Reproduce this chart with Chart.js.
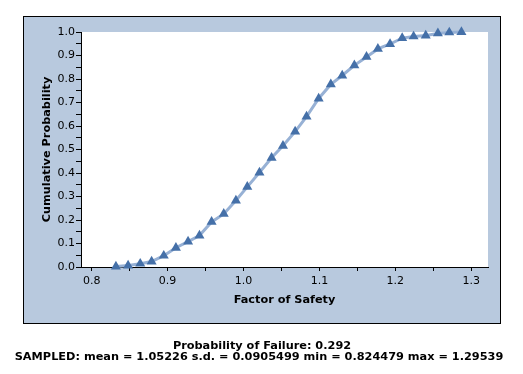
<!DOCTYPE html>
<html>
<head>
<meta charset="utf-8">
<script src="https://cdn.jsdelivr.net/npm/chart.js@4.4.1/dist/chart.umd.min.js"></script>
<style>
html,body{margin:0;padding:0;background:#ffffff;}
#wrap{position:relative;width:523px;height:374px;}
canvas{display:block;}
</style>
</head>
<body>
<div id="wrap"><canvas id="c" width="523" height="374"></canvas></div>
<script>
// Data
const factorOfSafety = [0.832,0.848,0.864,0.879,0.895,0.911,0.927,0.942,0.958,0.974,0.990,1.005,1.021,1.037,1.052,1.068,1.083,1.099,1.115,1.130,1.146,1.162,1.177,1.193,1.209,1.224,1.240,1.256,1.271,1.287];
const cumulativeProbability = [0.002,0.006,0.014,0.023,0.048,0.082,0.108,0.134,0.192,0.226,0.283,0.341,0.402,0.465,0.516,0.576,0.640,0.717,0.777,0.815,0.858,0.894,0.928,0.949,0.974,0.981,0.985,0.994,0.998,1.0];
const xTitle = "Factor of Safety";
const yTitle = "Cumulative Probability";
const footerLines = [
  "Probability of Failure: 0.292",
  "SAMPLED: mean = 1.05226 s.d. = 0.0905499 min = 0.824479 max = 1.29539"
];

const FONT = "'DejaVu Sans', Verdana, sans-serif";
const PANEL_BG = "#b8c9de";

const points = factorOfSafety.map((x, i) => ({x: x, y: cumulativeProbability[i]}));

const bgPlugin = {
  id: 'panelBg',
  beforeDraw(chart) {
    const ctx = chart.ctx;
    const a = chart.chartArea;
    ctx.save();
    ctx.fillStyle = '#ffffff';
    ctx.fillRect(0, 0, chart.width, chart.height);
    ctx.fillStyle = PANEL_BG;
    ctx.fillRect(23, 16, 477, 307);
    ctx.strokeStyle = '#000000';
    ctx.lineWidth = 1;
    ctx.strokeRect(23.5, 16.5, 477, 307);
    ctx.fillStyle = '#ffffff';
    ctx.fillRect(a.left, a.top, a.right - a.left, a.bottom - a.top);
    ctx.restore();
  },
  afterDraw(chart) {
    const ctx = chart.ctx;
    ctx.save();
    ctx.fillStyle = '#000000';
    ctx.font = "bold 11.3px " + FONT;
    ctx.textAlign = 'center';
    ctx.textBaseline = 'alphabetic';
    ctx.fillText(footerLines[0], 262, 349);
    ctx.fillText(footerLines[1], 259, 360);
    ctx.restore();
  }
};

const isTenth = v => Math.abs(v * 10 - Math.round(v * 10)) < 1e-6;

new Chart(document.getElementById('c'), {
  type: 'line',
  data: {
    datasets: [{
      data: points,
      clip: false,
      borderColor: '#97b1d5',
      borderWidth: 3,
      pointStyle: 'triangle',
      pointRadius: 5.8,
      pointBackgroundColor: '#4570a8',
      pointBorderColor: '#4570a8',
      pointBorderWidth: 0,
      tension: 0,
      fill: false
    }]
  },
  options: {
    responsive: false,
    animation: false,
    events: [],
    layout: { padding: { left: 36, right: 35, top: 32, bottom: 63 } },
    plugins: { legend: { display: false }, tooltip: { enabled: false } },
    scales: {
      x: {
        type: 'linear',
        min: 0.786,
        max: 1.322,
        afterFit(s) { s.height = 44; },
        border: { display: true, color: '#000000', width: 1 },
        grid: { drawOnChartArea: false, drawTicks: true, tickLength: 4, color: '#000000', lineWidth: 1 },
        ticks: {
          stepSize: 0.05,
          includeBounds: false,
          autoSkip: false,
          maxRotation: 0,
          padding: 4,
          color: '#000000',
          font: { family: FONT, size: 11 },
          callback: v => isTenth(v) ? v.toFixed(1) : ''
        },
        title: { display: true, text: xTitle, color: '#000000', padding: 4, font: { family: FONT, size: 11.3, weight: 'bold' } }
      },
      y: {
        type: 'linear',
        min: 0,
        max: 1,
        afterFit(s) { s.width = 45; },
        border: { display: true, color: '#000000', width: 1 },
        grid: { drawOnChartArea: false, drawTicks: true, tickLength: 5, color: '#000000', lineWidth: 1 },
        ticks: {
          stepSize: 0.05,
          autoSkip: false,
          padding: 1,
          color: '#000000',
          font: { family: FONT, size: 11 },
          callback: v => isTenth(v) ? v.toFixed(1) : ''
        },
        title: { display: true, text: yTitle, color: '#000000', padding: 4, font: { family: FONT, size: 11.3, weight: 'bold' } }
      }
    }
  },
  plugins: [bgPlugin]
});
</script>
</body>
</html>
